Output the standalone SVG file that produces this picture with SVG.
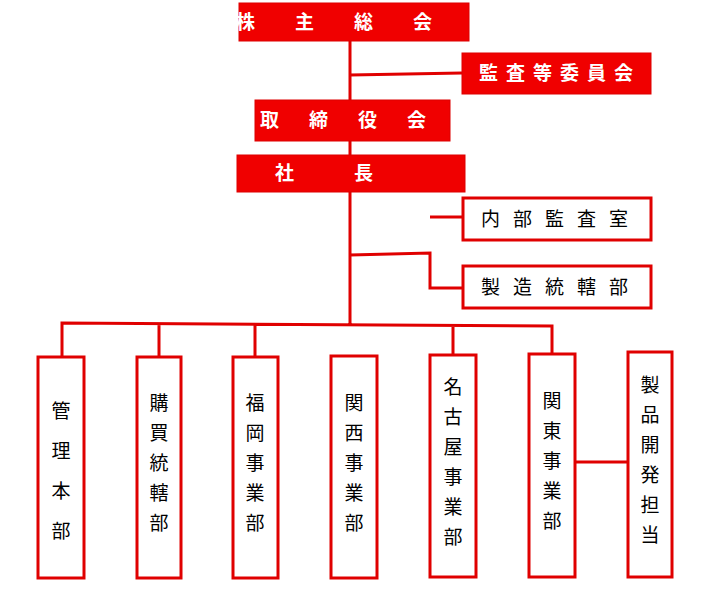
<svg xmlns="http://www.w3.org/2000/svg" width="703" height="600" viewBox="0 0 703 600">
<style>
.f{fill:#f00000;stroke:#d00;stroke-width:1}
.w{fill:#fff;stroke:#e00000;stroke-width:3}
.tw{fill:#fff;font-family:"Noto Sans CJK JP",sans-serif;font-size:19px;font-weight:bold;text-anchor:middle}
.tb{fill:#000;font-family:"Noto Sans CJK JP",sans-serif;font-size:19px;text-anchor:middle}
.c{stroke:#e00000;stroke-width:3;fill:none}
</style>
<rect width="703" height="600" fill="#fff"/>
<g id="connectors">
<path class="c" d="M350 41V325M350 75L462 73M350 255L430 253V288H463M430 217H463M62 357V323L552 326V354M159 357V324M255 357V325M453 355V326M575 462H628"/>
</g>
<g id="n1"><rect class="f" x="239" y="3" width="230" height="38"/><text class="tw" x="354" y="29" letter-spacing="40">株主総会</text></g>
<g id="n2"><rect class="f" x="462" y="53" width="189" height="41"/><text class="tw" x="560" y="80" letter-spacing="8">監査等委員会</text></g>
<g id="n3"><rect class="f" x="255" y="100" width="195" height="41"/><text class="tw" x="358" y="127" letter-spacing="30">取締役会</text></g>
<g id="n4"><rect class="f" x="237" y="155" width="228" height="37"/><text class="tw" x="354" y="180" letter-spacing="60">社長</text></g>
<g id="n5"><rect class="w" x="463" y="198" width="188" height="42"/><text class="tb" x="561" y="226" letter-spacing="13">内部監査室</text></g>
<g id="n6"><rect class="w" x="463" y="266" width="188" height="42"/><text class="tb" x="561" y="294" letter-spacing="13">製造統轄部</text></g>
<g id="n7"><rect class="w" x="38" y="357" width="46" height="221"/><text class="tb" x="61" y="418">管</text><text class="tb" x="61" y="458">理</text><text class="tb" x="61" y="498">本</text><text class="tb" x="61" y="538">部</text></g>
<g id="n8"><rect class="w" x="137" y="357" width="44" height="221"/><text class="tb" x="159" y="410">購</text><text class="tb" x="159" y="440">買</text><text class="tb" x="159" y="470">統</text><text class="tb" x="159" y="500">轄</text><text class="tb" x="159" y="530">部</text></g>
<g id="n9"><rect class="w" x="233" y="357" width="45" height="221"/><text class="tb" x="255" y="410">福</text><text class="tb" x="255" y="440">岡</text><text class="tb" x="255" y="470">事</text><text class="tb" x="255" y="500">業</text><text class="tb" x="255" y="530">部</text></g>
<g id="n10"><rect class="w" x="331" y="356" width="46" height="222"/><text class="tb" x="354" y="410">関</text><text class="tb" x="354" y="440">西</text><text class="tb" x="354" y="470">事</text><text class="tb" x="354" y="500">業</text><text class="tb" x="354" y="530">部</text></g>
<g id="n11"><rect class="w" x="430" y="355" width="46" height="222"/><text class="tb" x="453" y="394">名</text><text class="tb" x="453" y="424">古</text><text class="tb" x="453" y="454">屋</text><text class="tb" x="453" y="484">事</text><text class="tb" x="453" y="514">業</text><text class="tb" x="453" y="544">部</text></g>
<g id="n12"><rect class="w" x="529" y="354" width="46" height="223"/><text class="tb" x="552" y="408">関</text><text class="tb" x="552" y="438">東</text><text class="tb" x="552" y="468">事</text><text class="tb" x="552" y="498">業</text><text class="tb" x="552" y="528">部</text></g>
<g id="n13"><rect class="w" x="628" y="352" width="44" height="225"/><text class="tb" x="650" y="392">製</text><text class="tb" x="650" y="422">品</text><text class="tb" x="650" y="452">開</text><text class="tb" x="650" y="482">発</text><text class="tb" x="650" y="512">担</text><text class="tb" x="650" y="542">当</text></g>
</svg>
